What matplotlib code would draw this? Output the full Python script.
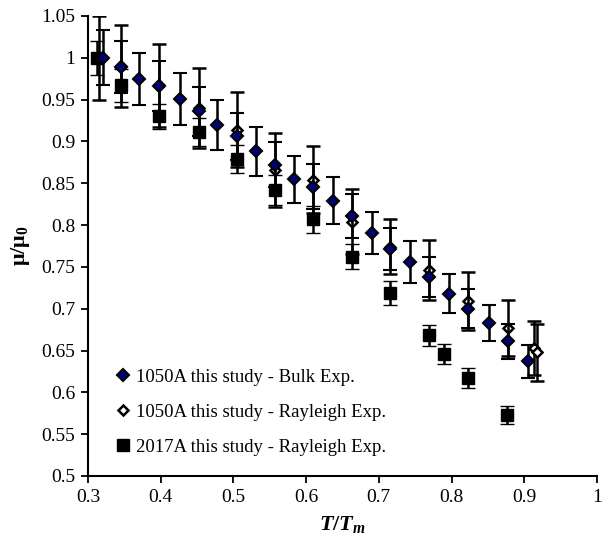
import matplotlib
matplotlib.use("Agg")
import matplotlib.pyplot as plt
from matplotlib.lines import Line2D

plt.rcParams['font.family'] = ['Liberation Serif', 'DejaVu Serif']
plt.rcParams['mathtext.fontset'] = 'custom'
plt.rcParams['mathtext.rm'] = 'Liberation Serif:bold'
plt.rcParams['mathtext.bf'] = 'Liberation Serif:bold'
plt.rcParams['mathtext.it'] = 'Liberation Serif:bold:italic'

# 1050A bulk experiments
bulk_x = [0.32, 0.345, 0.37, 0.398, 0.426, 0.452, 0.477, 0.505, 0.531, 0.557, 0.583, 0.61,
          0.637, 0.663, 0.69, 0.716, 0.743, 0.769, 0.796, 0.823, 0.851, 0.877, 0.905]
bulk_y = [1.0, 0.989, 0.975, 0.966, 0.951, 0.936, 0.920, 0.906, 0.888, 0.872, 0.855, 0.846,
          0.829, 0.811, 0.791, 0.771, 0.756, 0.738, 0.718, 0.700, 0.683, 0.661, 0.637]
bulk_err = [0.033, 0.031, 0.031, 0.030, 0.031, 0.029, 0.030, 0.028, 0.029, 0.027, 0.028, 0.027,
            0.028, 0.026, 0.025, 0.025, 0.025, 0.024, 0.023, 0.023, 0.022, 0.021, 0.020]

# 1050A Rayleigh experiments
ray_x = [0.315, 0.345, 0.398, 0.452, 0.505, 0.557, 0.61, 0.663, 0.716, 0.769, 0.823, 0.877, 0.913, 0.918]
ray_y = [1.0, 0.99, 0.967, 0.94, 0.914, 0.866, 0.854, 0.804, 0.774, 0.746, 0.709, 0.677, 0.653, 0.648]
ray_err = [0.05, 0.049, 0.05, 0.048, 0.045, 0.044, 0.04, 0.039, 0.033, 0.036, 0.035, 0.033, 0.032, 0.034]

# 2017A Rayleigh experiments
al_x = [0.312, 0.345, 0.398, 0.452, 0.505, 0.557, 0.61, 0.663, 0.716, 0.769, 0.79, 0.822, 0.876]
al_y = [1.0, 0.967, 0.930, 0.911, 0.879, 0.842, 0.807, 0.762, 0.719, 0.668, 0.646, 0.617, 0.573]
al_err = [0.02, 0.02, 0.015, 0.017, 0.017, 0.018, 0.016, 0.015, 0.014, 0.013, 0.012, 0.012, 0.011]

labels = ["1050A this study - Bulk Exp.",
          "1050A this study - Rayleigh Exp.",
          "2017A this study - Rayleigh Exp."]

x_ticks = [0.3, 0.4, 0.5, 0.6, 0.7, 0.8, 0.9, 1.0]
x_ticklabels = ["0.3", "0.4", "0.5", "0.6", "0.7", "0.8", "0.9", "1"]
y_ticks = [0.5, 0.55, 0.6, 0.65, 0.7, 0.75, 0.8, 0.85, 0.9, 0.95, 1.0, 1.05]
y_ticklabels = ["0.5", "0.55", "0.6", "0.65", "0.7", "0.75", "0.8", "0.85", "0.9", "0.95", "1", "1.05"]

fig = plt.figure(figsize=(6.05, 5.36), dpi=100)
ax = fig.add_axes([88/605, 60/536, (597-88)/605, (476-16)/536])

eb = dict(ecolor='black', elinewidth=1.8, capsize=5, capthick=1.8, linestyle='none')
ax.errorbar(al_x, al_y, yerr=al_err, marker='s', ms=8.8, mfc='black', mec='black', mew=1,
            zorder=3, **eb)
ax.errorbar(ray_x, ray_y, yerr=ray_err, marker='D', ms=5.2, mfc='white', mec='black', mew=1.8,
            zorder=4, **eb)
ax.errorbar(bulk_x, bulk_y, yerr=bulk_err, marker='D', ms=6.4, mfc='#00007a', mec='black', mew=1.5,
            zorder=5, **eb)

handles = [
    Line2D([], [], linestyle='none', marker='D', ms=6.2, mfc='#00007a', mec='black', mew=1.5),
    Line2D([], [], linestyle='none', marker='D', ms=5.2, mfc='white', mec='black', mew=1.8),
    Line2D([], [], linestyle='none', marker='s', ms=8.3, mfc='black', mec='black', mew=1),
]
ax.legend(handles, labels, loc='upper left', bbox_to_anchor=(0.02, 0.27), frameon=False,
          fontsize=13.5, handlelength=0.8, handletextpad=0.3, labelspacing=0.95, borderaxespad=0.5)

ax.set_xlim(0.3, 1.0)
ax.set_ylim(0.5, 1.05)
ax.set_xticks(x_ticks)
ax.set_xticklabels(x_ticklabels)
ax.set_yticks(y_ticks)
ax.set_yticklabels(y_ticklabels)
ax.tick_params(axis='both', direction='out', length=5, width=1.3, labelsize=14, colors='black', pad=4)
ax.spines['top'].set_visible(False)
ax.spines['right'].set_visible(False)
ax.spines['left'].set_linewidth(1.5)
ax.spines['bottom'].set_linewidth(1.5)

ax.set_xlabel(r'$\mathit{T/T_m}$', fontsize=16, labelpad=6)
ax.set_ylabel(r'$\mathbf{\mu/\mu_0}$', fontsize=16, labelpad=7)

fig.savefig("out.png", dpi=100)
